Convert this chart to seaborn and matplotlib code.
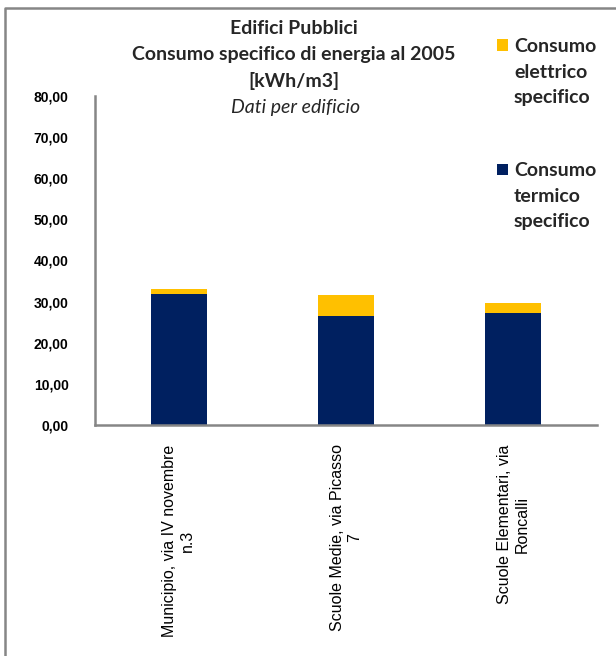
import matplotlib
matplotlib.use("Agg")
import matplotlib.pyplot as plt
from matplotlib.lines import Line2D
from matplotlib.patches import Rectangle
import seaborn as sns
import pandas as pd

# Data
edifici = ["Municipio, via IV novembre\nn.3",
           "Scuole Medie, via Picasso\n7",
           "Scuole Elementari, via\nRoncalli"]
consumo_termico = [31.9, 26.6, 27.2]
consumo_elettrico = [1.1, 4.9, 2.4]
y_ticks = [0, 10, 20, 30, 40, 50, 60, 70, 80]

titolo = ["Edifici Pubblici", "Consumo specifico di energia al 2005", "[kWh/m3]"]
sottotitolo = "Dati per edificio"
leg_elettrico = ["Consumo", "elettrico", "specifico"]
leg_termico = ["Consumo", "termico", "specifico"]

NAVY = "#002060"
GOLD = "#FFC000"
GREY = "#868686"

sns.set_theme(style="white")
plt.rcParams["font.family"] = ["Liberation Sans", "DejaVu Sans"]

W, H = 616, 656
fig = plt.figure(figsize=(W / 100, H / 100), dpi=100)


def fx(px):
    return px / W


def fy(py):
    return 1 - py / H


ax = fig.add_axes([fx(95), fy(425), fx(596.7) - fx(95), fy(96) - fy(425)])

df = pd.DataFrame({
    "edificio": edifici,
    "termico": consumo_termico,
    "totale": [t + e for t, e in zip(consumo_termico, consumo_elettrico)],
})

# stacked bars: total height in gold, thermal share in navy over it
sns.barplot(data=df, x="edificio", y="totale", color=GOLD, saturation=1,
            width=0.334, edgecolor="none", ax=ax)
sns.barplot(data=df, x="edificio", y="termico", color=NAVY, saturation=1,
            width=0.334, edgecolor="none", ax=ax)

ax.set_xlim(-0.5, 2.5)
ax.set_ylim(0, 80)
ax.set_yticks(y_ticks)
ax.set_yticklabels([f"{v:.2f}".replace(".", ",") for v in y_ticks],
                   fontsize=10, fontweight="bold", color="black")
ax.set_xticks(range(len(edifici)))
ax.set_xticklabels(edifici, rotation=90, fontsize=11.5, color="black",
                   ha="center", va="top", multialignment="center")
ax.tick_params(axis="both", length=0)
ax.tick_params(axis="y", pad=19)
ax.tick_params(axis="x", pad=14)
ax.set_xlabel("")
ax.set_ylabel("")
for side in ["top", "right"]:
    ax.spines[side].set_visible(False)
for side in ["left", "bottom"]:
    ax.spines[side].set_color(GREY)
    ax.spines[side].set_linewidth(1.8)

# chart frame (left and top edges)
fig.add_artist(Line2D([fx(5), fx(5), fx(W + 10)], [fy(H + 10), fy(8), fy(8)],
                      transform=fig.transFigure, color=GREY, linewidth=1.8))

# title
title_font = ["Lato", "DejaVu Sans"]
for i, line in enumerate(titolo):
    fig.text(fx(294), fy(28 + 26.3 * i), line, ha="center", va="center",
             fontsize=14, fontweight="bold", family=title_font)
fig.text(fx(296), fy(107), sottotitolo, ha="center", va="center",
         fontsize=14, style="italic", family=title_font)

# legend
for sq_y, base_y, col, lines in [(39.5, 52, GOLD, leg_elettrico),
                                 (163.5, 176, NAVY, leg_termico)]:
    fig.add_artist(Rectangle((fx(497), fy(sq_y + 11.5)), fx(11.5),
                             fy(sq_y) - fy(sq_y + 11.5),
                             transform=fig.transFigure, facecolor=col,
                             edgecolor="none"))
    for j, word in enumerate(lines):
        fig.text(fx(514), fy(base_y + 25.5 * j), word, ha="left", va="baseline",
                 fontsize=14, fontweight="bold", family=title_font)

fig.savefig("out.png", dpi=100, facecolor="white")
